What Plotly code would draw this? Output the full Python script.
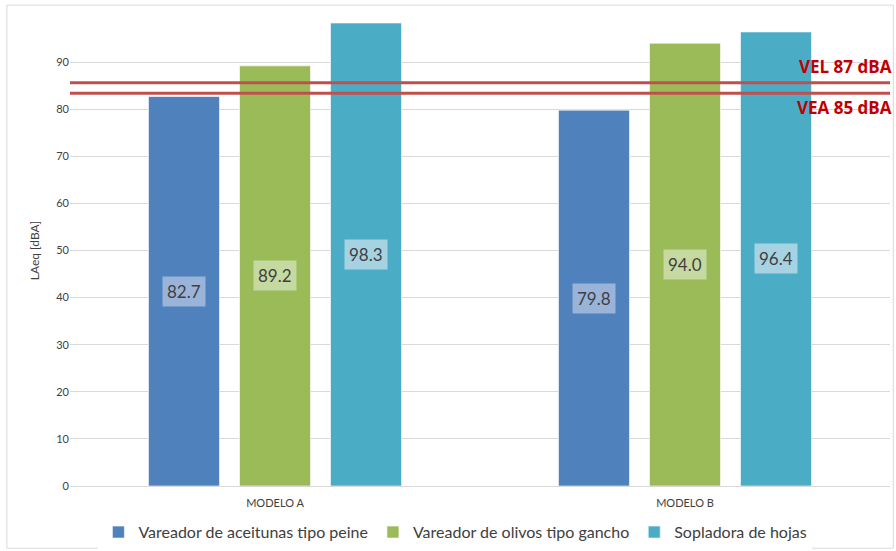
import plotly.graph_objects as go

categories = ["MODELO A", "MODELO B"]
series_names = ["Vareador de aceitunas tipo peine", "Vareador de olivos tipo gancho", "Sopladora de hojas"]
peine = [82.7, 79.8]
gancho = [89.2, 94.0]
sopladora = [98.3, 96.4]
series_values = [peine, gancho, sopladora]
colors = ["#4f81bd", "#9bbb59", "#4bacc6"]
label_bg = ["#9ab4d9", "#c6d9a0", "#a6d2e2"]

limit_values = [85.6, 83.4]
limit_labels = ["VEL 87 dBA", "VEA 85 dBA"]
y_ticks = [0, 10, 20, 30, 40, 50, 60, 70, 80, 90]

BARGAP = 0.334
GROUPGAP = 0.22

fig = go.Figure()
for name, vals, col in zip(series_names, series_values, colors):
    fig.add_trace(go.Bar(
        x=categories, y=vals, name=name,
        marker=dict(color=col, line=dict(color="rgba(255,255,255,0.6)", width=1)),
    ))

slot = (1 - BARGAP) / len(series_values)
annotations = []
for si, vals in enumerate(series_values):
    offset = (si - (len(series_values) - 1) / 2) * slot
    for ci, v in enumerate(vals):
        annotations.append(dict(
            x=ci + offset, y=v / 2, xref="x", yref="y", text=f"{v:.1f}",
            showarrow=False, font=dict(size=17, color="#404040", family="Lato, Open Sans, sans-serif"),
            bgcolor=label_bg[si], borderpad=4,
        ))

shapes = []
for lv in limit_values:
    shapes.append(dict(type="line", xref="paper", x0=0, x1=1, yref="y", y0=lv, y1=lv,
                       line=dict(color="#c0504d", width=3)))
# outer chart border
shapes.append(dict(type="rect", xref="paper", yref="paper", x0=-0.077, x1=1.004, y0=-0.132, y1=1.021,
                   line=dict(color="#d9d9d9", width=1), fillcolor="rgba(0,0,0,0)", layer="below"))

annotations.append(dict(xref="paper", x=1.005, xanchor="right", yref="y", y=limit_values[0], yanchor="bottom",
                        yshift=3, text="<b>" + limit_labels[0] + "</b>", showarrow=False,
                        font=dict(size=17, color="#c00000", family="Open Sans, sans-serif")))
annotations.append(dict(xref="paper", x=1.005, xanchor="right", yref="y", y=limit_values[1], yanchor="top",
                        yshift=-1, text="<b>" + limit_labels[1] + "</b>", showarrow=False,
                        font=dict(size=17, color="#c00000", family="Open Sans, sans-serif")))

fig.update_layout(
    width=896, height=551,
    margin=dict(l=70, r=6, t=15, b=65, autoexpand=False),
    paper_bgcolor="white", plot_bgcolor="white",
    barmode="group", bargap=BARGAP, bargroupgap=GROUPGAP,
    font=dict(family="Lato, Open Sans, sans-serif", color="#595959"),
    xaxis=dict(showgrid=False, showline=True, linecolor="#d9d9d9", linewidth=1,
               tickfont=dict(size=11, color="#404040"), ticks="", automargin=False,
               ticklabelstandoff=7),
    yaxis=dict(range=[0, 100], tickvals=y_ticks, showgrid=True, gridcolor="#d9d9d9", gridwidth=1,
               zeroline=False, tickfont=dict(size=11, color="#404040"), ticks="", ticklen=0,
               title=dict(text="LAeq [dBA]", font=dict(size=12, color="#404040"), standoff=14),
               automargin=False),
    legend=dict(orientation="h", x=0.47, xanchor="center", y=-0.098, yanchor="middle",
                font=dict(size=16, color="#404040"), traceorder="normal",
                itemwidth=30, tracegroupgap=0),
    annotations=annotations, shapes=shapes,
    showlegend=True,
)

fig.write_html("out.html")
